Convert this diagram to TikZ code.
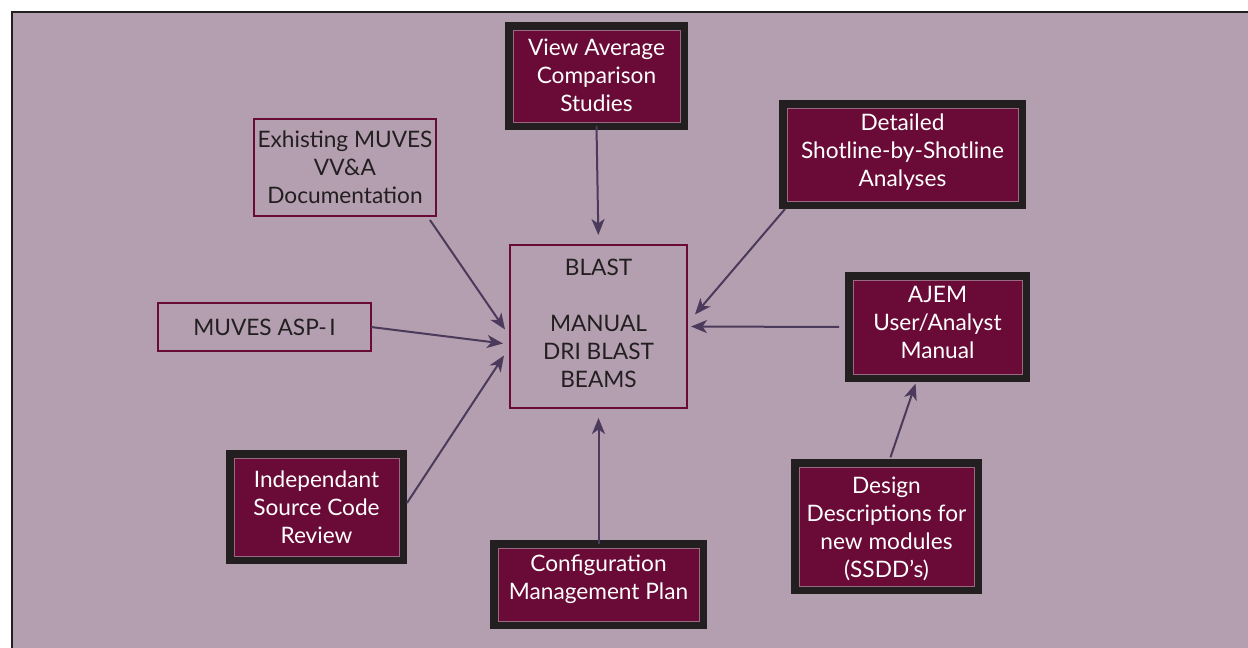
\documentclass[tikz,border=0pt]{standalone}
\usepackage{fontspec}
\setmainfont{Lato}
\usetikzlibrary{arrows.meta}
\definecolor{bgmauve}{HTML}{B39FAF}
\definecolor{maroon}{HTML}{6A0A36}
\definecolor{frameblack}{HTML}{231F20}
\definecolor{arrowpurple}{HTML}{4B3A5B}
\definecolor{innerline}{HTML}{9A6A82}
\tikzset{
  txt/.style={font=\fontsize{12.9}{15.9}\selectfont, align=center, inner sep=0pt, outer sep=0pt},
  wtxt/.style={txt, text=white},
  dtxt/.style={txt, text=frameblack},
  darkbox/.style={txt, draw=frameblack, line width=0.16cm, fill=maroon, text=white},
  lightbox/.style={txt, draw=maroon, line width=0.05cm, text=frameblack},
  conn/.style={draw=arrowpurple, line width=0.04cm, -{Stealth[length=0.32cm, width=0.26cm, inset=0.09cm]}}
}
\begin{document}
\begin{tikzpicture}[x=0.02cm,y=-0.02cm]
\useasboundingbox (0,0) rectangle (1248,648);
\fill[white] (0,0) rectangle (1248,648);
\fill[bgmauve] (12,12) rectangle (1248,648);
\draw[frameblack, line width=0.05cm] (12,648) -- (12,12) -- (1248,12);

% nodes
\node[darkbox, minimum width=3.5cm, minimum height=2.0cm,
  label={[wtxt, yshift=0.6pt]center:{View Average\\Comparison\\Studies}}] (view) at (596.5,76) {};
\node[darkbox, minimum width=4.78cm, minimum height=2.02cm,
  label={[wtxt, yshift=1.4pt]center:{Detailed\\Shotline-by-Shotline\\Analyses}}] (detail) at (902.5,154.5) {};
\node[darkbox, minimum width=3.54cm, minimum height=2.04cm,
  label={[wtxt, yshift=2.8pt]center:{AJEM\\User/Analyst\\Manual}}] (ajem) at (937.5,327) {};
\node[darkbox, minimum width=3.46cm, minimum height=2.12cm,
  label={[wtxt]center:{Independant\\Source Code\\Review}}] (indep) at (316.5,507) {};
\node[darkbox, minimum width=4.18cm, minimum height=1.62cm,
  label={[wtxt, yshift=2.8pt]center:{Configuration\\Management Plan}}] (config) at (598.5,584.5) {};
\node[darkbox, minimum width=3.66cm, minimum height=2.54cm,
  label={[wtxt, yshift=-1.5pt]center:{Design\\Descriptions for\\new modules\\(SSDD{\char"0027}s)}}] (design) at (886.5,526.5) {};

\node[lightbox, minimum width=3.64cm, minimum height=1.94cm] (exh) at (345,167.5) {Exhisting MUVES\\VV\&A\\Documentation};
\node[lightbox, minimum width=4.26cm, minimum height=0.96cm] (asp) at (264.5,327) {MUVES ASP-\kern1.5pt I};
\node[lightbox, minimum width=3.54cm, minimum height=3.26cm,
  label={[dtxt, yshift=1.7pt]center:{BLAST\\ \\MANUAL\\DRI BLAST\\BEAMS}}] (blast) at (598.5,326.5) {};

% thin inner lines of the dark boxes
\foreach \n in {view,detail,ajem,indep,config,design}{
  \draw[innerline, line width=0.4pt] ([shift={(4,4)}]\n.north west) rectangle ([shift={(-4,-4)}]\n.south east);
}

% connectors
\draw[conn, shorten >=0.2cm] (view.south) -- (blast.north);
\draw[conn, shorten >=0.2cm] (config.north) -- (blast.south);
\draw[conn] ([shift={(-6,4)}]exh.south east) -- ([shift={(-5,3)}]blast.west);
\draw[conn] (asp.east) -- ([shift={(-7,17)}]blast.west);
\draw[conn] ([shift={(4,-4)}]indep.east) -- ([shift={(-6,29)}]blast.west);
\draw[conn] ([shift={(2,4)}]detail.south west) -- ([shift={(8,-12)}]blast.east);
\draw[conn, shorten >=0.08cm] ([shift={(-10,0)}]ajem.west) -- (blast.east);
\draw[conn, shorten <=0.12cm, shorten >=0.12cm] ([shift={(2,0)}]design.north) -- ([shift={(-20,0)}]ajem.south);
\end{tikzpicture}
\end{document}
